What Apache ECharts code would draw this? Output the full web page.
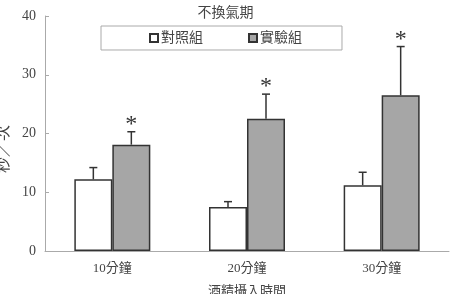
<!DOCTYPE html>
<html><head><meta charset="utf-8">
<script src="https://cdn.jsdelivr.net/npm/echarts@6/dist/echarts.min.js"></script>
<style>html,body{margin:0;padding:0;background:#fff}#c{width:451px;height:294px}</style>
</head><body><div id="c"></div>
<script>
var categories = ['10分鐘', '20分鐘', '30分鐘'];
var controlValues = [12.2, 7.5, 11.2];
var controlErr = [2.0, 0.9, 2.2];
var expValues = [18.1, 22.5, 26.5];
var expErr = [2.2, 4.2, 8.3];
var yTicks = [0, 10, 20, 30, 40];
var sigFlags = [1, 1, 1];
var yName = '秒／次';

var FONT = '"Liberation Serif", "Noto Sans CJK TC", serif';
var chart = echarts.init(document.getElementById('c'));
var BW = 38;

function errSeries(vals, errs, side) {
  return {
    type: 'custom',
    silent: true,
    z: 5,
    data: vals.map(function (v, i) { return [i, v, v + errs[i]]; }),
    renderItem: function (params, api) {
      var base = api.coord([api.value(0), api.value(1)]);
      var top = api.coord([api.value(0), api.value(2)]);
      var x = base[0] + side * BW / 2;
      return {
        type: 'group',
        children: [
          { type: 'line', shape: { x1: x, y1: base[1], x2: x, y2: top[1] }, style: { stroke: '#333', lineWidth: 1.5 } },
          { type: 'line', shape: { x1: x - 4, y1: top[1], x2: x + 4, y2: top[1] }, style: { stroke: '#333', lineWidth: 1.5 } }
        ]
      };
    }
  };
}

var starSeries = {
  type: 'custom', silent: true, z: 6,
  data: expValues.map(function (v, i) { return [i, v + expErr[i], sigFlags[i]]; }),
  renderItem: function (params, api) {
    if (!api.value(2)) return null;
    var p = api.coord([api.value(0), api.value(1)]);
    return { type: 'text', x: p[0] + BW / 2, y: p[1] + 5,
      style: { text: '*', font: '24px ' + FONT, fill: '#333', align: 'center', verticalAlign: 'bottom' } };
  }
};

chart.setOption({
  animation: false,
  title: { text: '不換氣期', left: 'center', top: 1,
    textStyle: { fontFamily: FONT, fontSize: 14, fontWeight: 'normal', color: '#444' } },
  legend: {
    left: 101, top: 26,
    padding: [5, 40, 5, 48],
    borderColor: '#aaa', borderWidth: 1,
    itemWidth: 8, itemHeight: 8, itemGap: 45,
    icon: 'rect',
    textStyle: { fontFamily: FONT, fontSize: 14, color: '#444', padding: [0, 0, 0, -2] },
    data: ['對照組', '實驗組']
  },
  graphic: [{
    type: 'text', x: 4, y: 149, rotation: Math.PI / 2,
    style: { text: yName, font: '16px ' + FONT, fill: '#444', align: 'center', verticalAlign: 'middle' }
  }],
  grid: { left: 45, right: 2, top: 16, bottom: 43, containLabel: false, outerBoundsMode: 'none' },
  xAxis: {
    type: 'category', data: categories,
    axisLine: { lineStyle: { color: '#aaa', width: 1 } },
    axisTick: { show: false },
    axisLabel: { fontFamily: FONT, fontSize: 13, color: '#444', margin: 11 },
    name: '酒精攝入時間', nameLocation: 'middle', nameGap: 34,
    nameTextStyle: { fontFamily: FONT, fontSize: 13, color: '#444' }
  },
  yAxis: {
    type: 'value', min: 0, max: 40, interval: 10,
    axisLine: { show: true, lineStyle: { color: '#aaa', width: 1 } },
    axisTick: { show: true, inside: true, length: 4, lineStyle: { color: '#aaa' } },
    splitLine: { show: false },
    axisLabel: { fontFamily: FONT, fontSize: 14, color: '#444', margin: 9,
      formatter: function (v) { return yTicks.indexOf(v) >= 0 ? String(v) : ''; } }
  },
  series: [
    { name: '對照組', type: 'bar', data: controlValues, barWidth: BW, barGap: '0%',
      itemStyle: { color: '#fff', borderColor: '#333', borderWidth: 1.5 } },
    { name: '實驗組', type: 'bar', data: expValues, barWidth: BW, barGap: '0%',
      itemStyle: { color: '#a6a6a6', borderColor: '#333', borderWidth: 1.5 } },
    errSeries(controlValues, controlErr, -1),
    errSeries(expValues, expErr, 1),
    starSeries
  ]
});
</script></body></html>
